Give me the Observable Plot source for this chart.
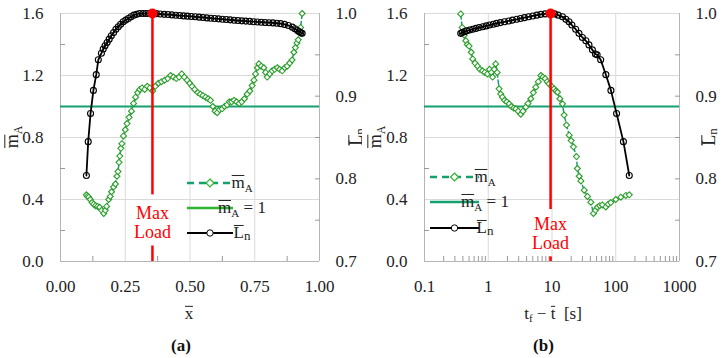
<!DOCTYPE html>
<html><head><meta charset="utf-8">
<script src="https://cdn.jsdelivr.net/npm/d3@7"></script>
<script src="https://cdn.jsdelivr.net/npm/@observablehq/plot@0.6"></script>
<style>
body{margin:0;background:#fff;font-family:"Liberation Serif",serif;}
svg, svg text, svg tspan{font-family:"Liberation Serif",serif !important;}
#row{display:flex;width:725px;height:358px;overflow:hidden}
.cap{text-align:center;font-weight:bold;font-size:17px;height:24px;line-height:24px;padding-top:4px;color:#111}
</style></head><body><div id="row"></div><script>
// ---------- data: panel (a), x̄ ----------
const xbarA = [0.100,0.104,0.109,0.115,0.122,0.128,0.135,0.143,0.151,0.159,0.167,0.173,0.178,0.186,0.192,0.197,0.205,0.212,0.218,0.222,0.226,0.229,0.233,0.237,0.243,0.250,0.257,0.265,0.274,0.282,0.290,0.298,0.306,0.315,0.325,0.335,0.345,0.356,0.366,0.378,0.390,0.402,0.414,0.425,0.436,0.447,0.458,0.468,0.478,0.489,0.499,0.508,0.518,0.530,0.540,0.550,0.560,0.570,0.579,0.588,0.597,0.605,0.614,0.624,0.633,0.643,0.652,0.661,0.670,0.680,0.690,0.700,0.710,0.721,0.731,0.740,0.747,0.753,0.760,0.766,0.775,0.785,0.792,0.798,0.808,0.817,0.827,0.837,0.846,0.856,0.866,0.875,0.885,0.894,0.901,0.907,0.913,0.918,0.924,0.927,0.933];
const mA_a = [0.43,0.42,0.415,0.40,0.38,0.37,0.36,0.355,0.35,0.33,0.31,0.33,0.355,0.40,0.42,0.45,0.48,0.50,0.55,0.58,0.64,0.68,0.73,0.76,0.81,0.85,0.89,0.93,0.97,1.02,1.06,1.09,1.11,1.12,1.11,1.13,1.12,1.10,1.13,1.15,1.16,1.17,1.18,1.20,1.19,1.18,1.19,1.21,1.19,1.17,1.15,1.13,1.11,1.09,1.08,1.07,1.06,1.05,1.04,1.00,0.97,0.96,0.98,0.985,1.00,1.01,1.03,1.03,1.04,1.03,1.02,1.03,1.05,1.08,1.10,1.135,1.17,1.21,1.25,1.275,1.26,1.25,1.22,1.19,1.21,1.23,1.24,1.25,1.24,1.23,1.25,1.26,1.28,1.30,1.35,1.38,1.41,1.43,1.48,1.51,1.60];
const xbarL = [0.100,0.107,0.116,0.127,0.138,0.146,0.158,0.165,0.172,0.180,0.188,0.196,0.205,0.214,0.223,0.232,0.242,0.252,0.262,0.272,0.283,0.294,0.305,0.318,0.330,0.343,0.355,0.370,0.385,0.400,0.415,0.430,0.445,0.460,0.475,0.490,0.505,0.520,0.535,0.550,0.565,0.580,0.595,0.610,0.625,0.640,0.655,0.670,0.685,0.700,0.715,0.730,0.745,0.760,0.775,0.790,0.805,0.820,0.835,0.850,0.865,0.880,0.895,0.905,0.915,0.922,0.928,0.933];
const Ln_a = [0.804,0.845,0.879,0.907,0.926,0.944,0.952,0.957,0.961,0.965,0.969,0.973,0.977,0.981,0.984,0.987,0.990,0.992,0.994,0.996,0.998,0.999,1.000,1.000,1.000,1.000,1.000,0.9998,0.9994,0.9990,0.9987,0.9983,0.9979,0.9975,0.9971,0.9968,0.9964,0.9960,0.9956,0.9952,0.9947,0.9943,0.9939,0.9935,0.9931,0.9927,0.9923,0.9919,0.9915,0.9911,0.9908,0.9905,0.9901,0.9898,0.9895,0.9892,0.9889,0.9886,0.9882,0.9877,0.9868,0.9855,0.9835,0.9815,0.9795,0.9780,0.9768,0.9760];
// ---------- data: panel (b), t_f − t̄ [s] ----------
const tM = [0.37,0.39,0.42,0.445,0.47,0.50,0.54,0.57,0.62,0.68,0.74,0.81,0.88,0.97,1.05,1.12,1.17,1.24,1.31,1.38,1.48,1.57,1.67,1.8,1.95,2.13,2.3,2.5,2.71,2.95,3.24,3.5,3.89,4.2,4.65,5.1,5.57,6.1,6.67,7.2,7.8,8.4,9.0,9.8,10.8,11.5,12.2,13.3,14.6,15.5,16.9,18.6,20,21.7,24.2,25,26.7,28.4,32,36,40.7,44.7,48,51.5,56,61.6,70,76,83.6,100,120,144,163];
const mA_b = [1.597,1.51,1.46,1.425,1.40,1.39,1.35,1.307,1.28,1.26,1.24,1.23,1.22,1.21,1.24,1.22,1.19,1.24,1.275,1.22,1.114,1.08,1.06,1.04,1.03,1.017,1.00,0.99,0.985,0.97,0.95,0.97,0.996,1.02,1.05,1.09,1.125,1.16,1.20,1.19,1.18,1.16,1.146,1.13,1.114,1.10,1.092,1.05,1.017,0.945,0.88,0.815,0.78,0.74,0.677,0.60,0.55,0.52,0.46,0.42,0.383,0.31,0.33,0.35,0.36,0.365,0.352,0.37,0.38,0.40,0.415,0.426,0.43];
const tL = [0.37,0.39,0.42,0.46,0.51,0.57,0.64,0.72,0.82,0.93,1.05,1.2,1.35,1.55,1.8,2.1,2.4,2.8,3.2,3.7,4.3,5.0,5.8,6.7,7.8,9.0,9.8,11,12.5,14.6,16.5,18.5,20.5,23.5,26.5,30,34,38,43,48,51,58,70,84,103,132,163];
const Ln_b = [0.976,0.977,0.978,0.979,0.980,0.981,0.982,0.983,0.984,0.985,0.986,0.987,0.988,0.989,0.990,0.991,0.992,0.993,0.994,0.995,0.996,0.997,0.998,0.999,0.9995,1.0,1.0,0.9995,0.998,0.996,0.993,0.990,0.986,0.981,0.976,0.971,0.967,0.962,0.956,0.951,0.950,0.944,0.926,0.907,0.879,0.845,0.804];
// ---------- axis ticks ----------
const mTicks = [0.0,0.4,0.8,1.2,1.6];
const mMinor = [0.2,0.6,1.0,1.4];
const LTicks = [0.7,0.8,0.9,1.0];
const LMinor = [0.75,0.8,0.85,0.9,0.95];
const xTicksA = [0,0.25,0.5,0.75,1];
const xMinorA = [0.125,0.375,0.625,0.875];
const xTicksB = [0.1,1,10,100,1000];
const maxLoadA = 0.355, maxLoadB = 9.5;

const TEAL = "#16a070", GREEN = "#2a9e2a", GRID = "#dadada", AX = "#b5b5b5";
const toM = L => (L - 0.7) / 0.3 * 1.6;
const fromM = m => 0.7 + m / 1.6 * 0.3;

// overbars are drawn after layout, measured from the glyph extents
const bars = [];
function bar(t, ch) { bars.push({t, idx: t.text().length}); t.append("tspan").text(ch); }
function sub(t, s, fs, dy) { t.append("tspan").attr("font-size", fs || 11).attr("dy", dy == null ? 4 : dy).text(s); }

function panel(c) {
  const green = c.gx.map((x, i) => ({x, y: c.gy[i]}));
  const black = c.bx.map((x, i) => ({x, y: toM(c.by[i])}));
  const svg = Plot.plot({
    width: c.width, height: 330,
    marginLeft: c.ml, marginRight: c.mr, marginTop: 13, marginBottom: 69,
    style: {fontFamily: "Liberation Serif, serif", fontSize: "17px", color: "#222", background: "#fff", overflow: "visible"},
    x: {type: c.xtype, domain: c.xdomain},
    y: {domain: [0, 1.6]},
    marks: [
      Plot.gridY(mTicks, {stroke: GRID, strokeOpacity: 1}),
      Plot.gridX(c.xgrid, {stroke: GRID, strokeOpacity: 1}),
      Plot.ruleX(c.xdomain, {stroke: AX}),
      Plot.ruleY([0], {stroke: AX}),
      Plot.axisY(mMinor, {anchor: "left", tickSize: 5, dx: 5, tickFormat: () => "", label: null, stroke: "#999"}),
      Plot.axisY(LMinor.map(toM), {anchor: "right", tickSize: 5, dx: -5, tickFormat: () => "", label: null, stroke: "#999"}),
      Plot.axisX(c.xminor, {anchor: "bottom", tickSize: 5, dy: -5, tickFormat: () => "", label: null, stroke: "#999"}),
      Plot.axisY(mTicks, {anchor: "left", tickSize: 0, tickPadding: 17, tickFormat: d => d.toFixed(1), label: null}),
      Plot.axisY(LTicks.map(toM), {anchor: "right", tickSize: 0, tickPadding: 16, tickFormat: d => fromM(d).toFixed(1), label: null}),
      Plot.axisX(c.xticks, {anchor: "bottom", tickSize: 0, tickPadding: 18, tickFormat: c.xfmt, label: null}),
      Plot.ruleY([1], {stroke: TEAL, strokeWidth: 2}),
      Plot.line(green, {x: "x", y: "y", stroke: TEAL, strokeWidth: 1.5, strokeDasharray: "5,3"}),
      Plot.dot(green, {x: "x", y: "y", symbol: "diamond2", r: 2.7, stroke: GREEN, fill: "white", strokeWidth: 1.1}),
      Plot.line(black, {x: "x", y: "y", stroke: "black", strokeWidth: 1.8}),
      Plot.dot(black, {x: "x", y: "y", r: 3, stroke: "black", fill: "none", strokeWidth: 1.1}),
      Plot.ruleX([c.red], {y1: 0, y2: c.gapLo, stroke: "#ff0000", strokeWidth: 2.5}),
      Plot.ruleX([c.red], {y1: c.gapHi, y2: 1.6, stroke: "#ff0000", strokeWidth: 2.5}),
      Plot.dot([c.red], {x: d => d, y: () => toM(1.0), r: 5, fill: "#ff0000", stroke: "none"}),
      Plot.text([{t: "Max", y: c.maxY}, {t: "Load", y: c.loadY}], {x: () => c.red, y: "y", text: "t", fill: "#ff0000", fontSize: 18})
    ]
  });
  const s = d3.select(svg);
  // axis titles
  const yl = s.append("text").attr("transform", `translate(${c.ylx},137) rotate(-90)`).attr("text-anchor", "middle").attr("dy", "0.35em").attr("font-size", 18).attr("fill", "#222");
  bar(yl, "m"); sub(yl, "A", 12);
  const yr = s.append("text").attr("transform", `translate(${c.yrx},137) rotate(-90)`).attr("text-anchor", "middle").attr("dy", "0.35em").attr("font-size", 18).attr("fill", "#222");
  bar(yr, "L"); sub(yr, "n", 13, 2);
  const xt = s.append("text").attr("x", c.xtx).attr("y", 313).attr("text-anchor", "middle").attr("dy", "0.35em").attr("font-size", 17).attr("fill", "#222");
  c.xtitle(xt);
  // legend
  const L = c.leg;
  const g = s.append("g");
  const rows = L.rows;
  const mid = (L.x0 + L.x1) / 2;
  g.append("line").attr("x1", L.x0).attr("x2", L.x1).attr("y1", rows[0]).attr("y2", rows[0]).attr("stroke", TEAL).attr("stroke-width", 2.5).attr("stroke-dasharray", "7,5");
  g.append("path").attr("d", d3.symbol(d3.symbolDiamond2, 40)()).attr("transform", `translate(${mid},${rows[0]})`).attr("fill", "white").attr("stroke", "#2db52d").attr("stroke-width", 1.2);
  g.append("line").attr("x1", L.x0).attr("x2", L.x1).attr("y1", rows[1]).attr("y2", rows[1]).attr("stroke", L.solid).attr("stroke-width", 2.5);
  g.append("line").attr("x1", L.x0).attr("x2", L.x1).attr("y1", rows[2]).attr("y2", rows[2]).attr("stroke", "black").attr("stroke-width", 2);
  g.append("circle").attr("cx", mid).attr("cy", rows[2]).attr("r", 3.2).attr("fill", "white").attr("stroke", "black").attr("stroke-width", 1);
  const t1 = g.append("text").attr("x", L.tx).attr("y", rows[0]).attr("dy", "0.3em").attr("font-size", 17).attr("fill", "#222");
  bar(t1, "m"); sub(t1, "A");
  const t2 = g.append("text").attr("x", L.tx).attr("y", rows[1]).attr("dy", "0.3em").attr("font-size", 17).attr("fill", "#222");
  bar(t2, "m"); sub(t2, "A");
  t2.append("tspan").attr("dy", -4).attr("font-size", 17).text(" = 1");
  const t3 = g.append("text").attr("x", L.tx).attr("y", rows[2]).attr("dy", "0.3em").attr("font-size", 17).attr("fill", "#222");
  bar(t3, "L"); sub(t3, "n", 13, 2);
  return svg;
}

const row = document.getElementById("row");
function addPanel(svg, cap, w) {
  const d = document.createElement("div");
  d.style.width = w + "px";
  d.appendChild(svg);
  const c = document.createElement("div");
  c.className = "cap"; c.textContent = cap;
  d.appendChild(c);
  row.appendChild(d);
}

addPanel(panel({
  width: 362, ml: 60, mr: 43, xtype: "linear", xdomain: [0, 1],
  xgrid: [0.25, 0.5, 0.75], xminor: xMinorA, xticks: xTicksA, xfmt: d => d.toFixed(2),
  gx: xbarA, gy: mA_a, bx: xbarL, by: Ln_a,
  red: maxLoadA, gapLo: 0.1, gapHi: 0.43, maxY: 0.31, loadY: 0.19,
  ylx: 12, yrx: 356, xtx: 189,
  xtitle: t => bar(t, "x"),
  leg: {x0: 187, x1: 233, tx: 242, rows: [183, 208, 233], solid: "#2db52d"}
}), "(a)", 362);

const minorB = [];
for (const p of [0.1, 1, 10, 100]) for (let k = 2; k <= 9; k++) minorB.push(+(p * k).toPrecision(3));
addPanel(panel({
  width: 363, ml: 62, mr: 46, xtype: "log", xdomain: [0.1, 1000],
  xgrid: [1, 10, 100], xminor: minorB, xticks: xTicksB, xfmt: d => String(d),
  gx: tM, gy: mA_b, bx: tL, by: Ln_b,
  red: maxLoadB, gapLo: 0.03, gapHi: 0.335, maxY: 0.24, loadY: 0.12,
  ylx: 13, yrx: 347, xtx: 191,
  xtitle: t => { t.append("tspan").text("t"); sub(t, "f", 11, 3); t.append("tspan").attr("dy", -3).text(" \u2212 "); bar(t, "t"); t.append("tspan").text("  [s]"); },
  leg: {x0: 68, x1: 117, tx: 123, rows: [177, 202, 228], solid: TEAL}
}), "(b)", 363);

// draw the overbars now that the text is laid out
for (const {t, idx} of bars) {
  const node = t.node();
  let e;
  try { e = node.getExtentOfChar(idx); } catch (err) { continue; }
  const fs = +node.getAttribute("font-size") || 16;
  const y = e.y + fs * 0.14;
  d3.select(node.parentNode).append("line")
    .attr("transform", node.getAttribute("transform"))
    .attr("x1", e.x + 0.3).attr("x2", e.x + e.width - 0.3)
    .attr("y1", y).attr("y2", y)
    .attr("stroke", "#222").attr("stroke-width", 1);
}
</script></body></html>
